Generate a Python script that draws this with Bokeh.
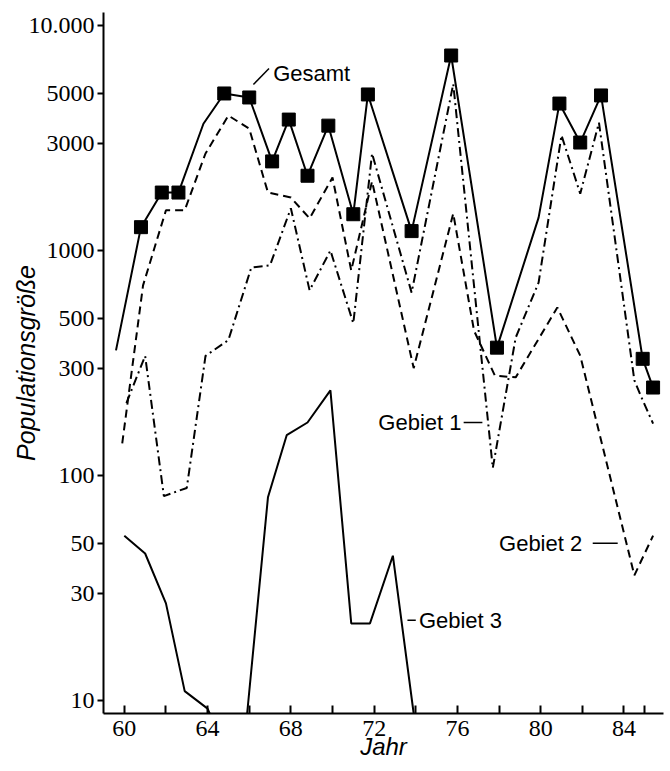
from bokeh.plotting import figure
from bokeh.models import FixedTicker, Label, Range1d
from bokeh.embed import file_html
from bokeh.resources import INLINE

NAN = float("nan")

# ---------------- data ----------------
gesamt_year = [59.6, 60.8, 61.8, 62.6, 63.8, 64.8, 66.0, 67.1, 67.9, 68.8, 69.8,
               71.0, 71.7, 73.8, 75.7, 77.9, 79.9, 80.9, 81.9, 82.9, 84.9, 85.4]
gesamt_size = [360, 1270, 1810, 1810, 3660, 4990, 4790, 2490, 3820, 2150, 3590,
               1450, 4940, 1220, 7360, 370, 1400, 4500, 3020, 4890, 330, 246]
gesamt_marked = [False, True, True, True, False, True, True, True, True, True, True,
                 True, True, True, True, True, False, True, True, True, True, True]

gebiet1_year = [60.1, 61.0, 61.9, 63.0, 63.9, 65.0, 66.1, 67.0, 68.0, 68.9, 69.9, 71.0,
                71.9, 73.8, 75.8, 77.7, 78.8, 79.9, 81.0, 81.9, 82.8, 84.5, 84.8, 85.4]
gebiet1_size = [210, 340, 81, 88, 340, 400, 840, 860, 1540, 665, 1000, 475,
                2700, 650, 5500, 108, 410, 720, 3250, 1790, 3700, 265, 227, 170]

gebiet2_year = [59.9, 60.9, 62.0, 62.9, 63.9, 65.0, 66.0, 66.9, 68.0, 68.9, 70.0,
                70.9, 71.9, 73.9, 75.8, 76.8, 77.8, 78.8, 80.8, 81.9, 84.5, 85.4]
gebiet2_size = [139, 700, 1510, 1510, 2700, 3980, 3480, 1810, 1720, 1390, 2110,
                815, 2030, 300, 1460, 440, 278, 273, 558, 341, 36, 54]

# Gebiet 3 drops off the bottom of the scale (population vanishes) -> drawn to the axis
SCALE_FLOOR = 8.75
gebiet3_year = [60.0, 61.0, 62.0, 62.9, 64.0, 64.1, NAN,
                65.9, 66.9, 67.8, 68.8, 69.9, 70.9, 71.8, 72.9, 73.9]
gebiet3_size = [54, 45, 27, 11, 9.2, SCALE_FLOOR, NAN,
                SCALE_FLOOR, 80, 151, 172, 239, 22, 22, 44, SCALE_FLOOR]

y_ticks = [10, 30, 50, 100, 300, 500, 1000, 3000, 5000, 10000]
y_tick_labels = ["10", "30", "50", "100", "300", "500", "1000", "3000", "5000", "10.000"]
x_ticks = [60, 62, 64, 66, 68, 70, 72, 74, 76, 78, 80, 82, 84, 85]
x_tick_labels = ["60", "", "64", "", "68", "", "72", "", "76", "", "80", "", "84", ""]

TICK_FONT = "Liberation Sans Narrow"
TEXT_FONT = "Liberation Sans"

p = figure(width=665, height=771,
           x_range=Range1d(59.0, 85.9), y_range=Range1d(SCALE_FLOOR, 11430),
           y_axis_type="log", output_backend="svg", toolbar_location=None,
           min_border_left=103, min_border_right=2, min_border_top=12, min_border_bottom=58)

p.xgrid.visible = False
p.ygrid.visible = False
p.outline_line_color = None
p.background_fill_color = "white"

# axes
for ax in (p.xaxis, p.yaxis):
    ax.axis_line_width = 2
    ax.axis_line_color = "black"
    ax.major_tick_line_width = 2
    ax.major_tick_line_color = "black"
    ax.minor_tick_line_color = None
    ax.major_label_text_font = TICK_FONT
    ax.major_label_text_font_size = "24px"
    ax.major_label_text_color = "black"
    ax.axis_label_text_font = TEXT_FONT
    ax.axis_label_text_font_size = "25px"
    ax.axis_label_text_font_style = "italic"
    ax.axis_label_text_color = "black"

p.yaxis.ticker = FixedTicker(ticks=y_ticks)
p.yaxis.major_label_overrides = dict(zip(y_ticks, y_tick_labels))
p.yaxis.major_tick_out = 6
p.yaxis.major_tick_in = 0
p.yaxis.major_label_standoff = 3
p.yaxis.axis_label = "Populationsgröße"
p.yaxis.axis_label_standoff = -14

p.xaxis.ticker = FixedTicker(ticks=x_ticks)
p.xaxis.major_label_overrides = dict(zip(x_ticks, x_tick_labels))
p.xaxis.major_tick_out = 0
p.xaxis.major_tick_in = 8
p.xaxis.major_label_standoff = 7
p.xaxis.axis_label = "Jahr"
p.xaxis.axis_label_text_font_size = "24px"
p.xaxis.axis_label_standoff = -6

# series
p.line(gebiet2_year, gebiet2_size, line_color="black", line_width=2, line_dash="8 5")
p.line(gebiet1_year, gebiet1_size, line_color="black", line_width=2, line_dash="9 4 2 4")
p.line(gebiet3_year, gebiet3_size, line_color="black", line_width=2)
p.line(gesamt_year, gesamt_size, line_color="black", line_width=2)
mx = [x for x, m in zip(gesamt_year, gesamt_marked) if m]
my = [y for y, m in zip(gesamt_size, gesamt_marked) if m]
p.scatter(mx, my, marker="square", size=13, fill_color="black", line_color="black")

# labels with leader lines (annotation positions)
labels = [
    ("Gesamt", 67.15, 6100),
    ("Gebiet 1", 72.2, 172),
    ("Gebiet 2", 78.0, 50),
    ("Gebiet 3", 74.15, 22.7),
]
for txt, lx, ly in labels:
    p.add_layout(Label(x=lx, y=ly, text=txt, text_font=TEXT_FONT, text_font_size="22px",
                       text_align="left", text_baseline="middle", text_color="black"))

leader_x0 = [66.2, 76.3, 82.5, 73.6]
leader_y0 = [5470, 172, 50, 22.7]
leader_x1 = [66.95, 77.2, 83.7, 74.0]
leader_y1 = [6440, 172, 50, 22.7]
p.segment(leader_x0, leader_y0, leader_x1, leader_y1, line_color="black", line_width=1.5)

open("out.html", "w").write(file_html(p, INLINE))
